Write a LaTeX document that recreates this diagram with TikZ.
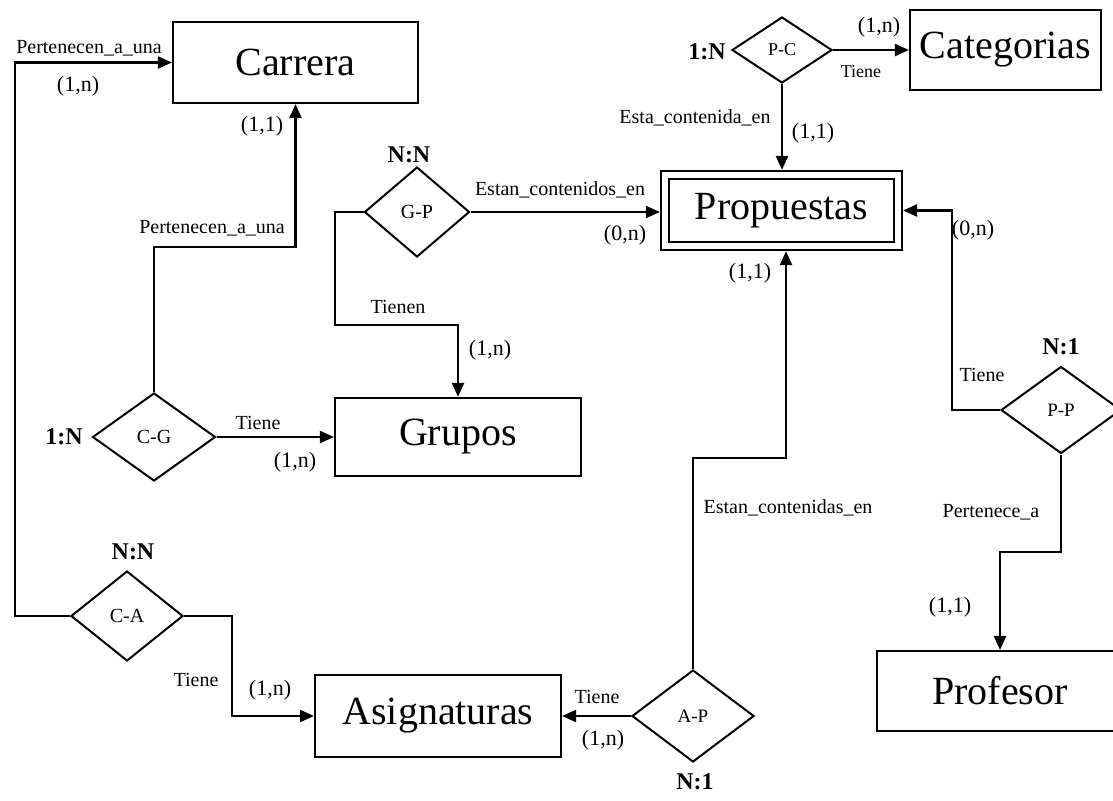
\documentclass[tikz,border=0pt]{standalone}
\usepackage{fontspec}
\setmainfont{Liberation Serif}
\usetikzlibrary{arrows.meta,shapes.geometric}
\tikzset{
 ent/.style={draw, line width=2.2pt, inner sep=0pt, font=\fontsize{40}{44}\selectfont},
 rel/.style={draw, diamond, line width=2pt, inner sep=0pt, font=\fontsize{20}{22}\selectfont},
 conn/.style={line width=2.2pt},
 arr/.style={conn, -{Triangle[length=14pt,width=12pt]}},
 lab/.style={font=\fontsize{20}{22}\selectfont, inner sep=0pt},
 smlab/.style={font=\fontsize{18}{20}\selectfont, inner sep=0pt},
 card/.style={font=\fontsize{22}{24}\selectfont, inner sep=0pt},
 ratio/.style={font=\bfseries\fontsize{24}{26}\selectfont, inner sep=0pt},
}
\begin{document}
\begin{tikzpicture}[x=1pt,y=-1pt]
\useasboundingbox (0,0) rectangle (1113,800);
\clip (0,0) rectangle (1113,800);
\fill[white] (0,0) rectangle (1113,800);
% entities
\node[ent, minimum width=245pt, minimum height=81pt] (Carrera) at (295.5,62.5) {Carrera};
\node[ent, minimum width=191pt, minimum height=80pt] (Cat) at (1005.5,50) {Categorias};
\node[ent, minimum width=241pt, minimum height=79pt] (Prop) at (781.5,210.5) {Propuestas};
\draw[line width=2pt] ([shift={(9pt,-9pt)}]Prop.north west) rectangle ([shift={(-9pt,9pt)}]Prop.south east);
\node[ent, minimum width=246pt, minimum height=78pt] (Grupos) at (458,437) {Grupos};
\node[ent, minimum width=246pt, minimum height=82pt] (Asig) at (438,716) {Asignaturas};
\node[ent, minimum width=246pt, minimum height=80pt] (Prof) at (1000,691) {Profesor};
% relationships
\node[rel, minimum width=100pt, minimum height=66pt, font=\fontsize{18}{20}\selectfont] (PC) at (782,50) {P-C};
\node[rel, minimum width=105pt, minimum height=90pt] (GP) at (417,212) {G-P};
\node[rel, minimum width=123pt, minimum height=88pt] (CG) at (154,437) {C-G};
\node[rel, minimum width=112pt, minimum height=90pt] (CA) at (127,616) {C-A};
\node[rel, minimum width=122pt, minimum height=92pt, font=\fontsize{19}{21}\selectfont] (AP) at (693,716) {A-P};
\node[rel, minimum width=120pt, minimum height=87pt, font=\fontsize{19}{21}\selectfont] (PP) at (1061,410) {P-P};
% connectors
\draw[arr] (CA.west) -- (15,616) |- (Carrera.west);
\draw[arr] (CG.north) -- (154,247) -| (Carrera.south);
\draw[arr] (CG.east) -- (Grupos.west);
\draw[arr] (GP.west) -| (335,325) -| (Grupos.north);
\draw[arr] (GP.east) -- (Prop.west |- GP.east);
\draw[arr] (PC.south) -- (PC.south |- Prop.north);
\draw[arr] (PC.east) -- (Cat.west |- PC.east);
\draw[arr] (AP.north) -- (693,458) -| ([xshift=4.5pt]Prop.south);
\draw[arr] (AP.west) -- (Asig.east |- AP.west);
\draw[arr] (PP.west) -- (952,410) |- (Prop.east);
\draw[arr] (PP.south) -- (1061,552) -| (Prof.north);
\draw[arr] (CA.east) -- (232,616) |- (Asig.west);
% labels
\node[lab] (l1) at (89,48) {Pertenecen\_a\_una};
\node[card] (c1) at (78,86) {(1,n)};
\node[card] (c2) at (262,126) {(1,1)};
\node[lab] (l2) at (212,228) {Pertenecen\_a\_una};
\node[ratio] (r1) at (409,155) {N:N};
\node[lab] (l3) at (560,190) {Estan\_contenidos\_en};
\node[card] (c3) at (625,235) {(0,n)};
\node[lab] (l4) at (398,307) {Tienen};
\node[card] (c4) at (490,350) {(1,n)};
\node[ratio] (r2) at (64,437) {1:N};
\node[lab] (l5) at (258,423) {Tiene};
\node[card] (c5) at (295,462) {(1,n)};
\node[ratio] (r3) at (133,552) {N:N};
\node[lab] (l6) at (196,680) {Tiene};
\node[card] (c6) at (270,690) {(1,n)};
\node[lab] (l7) at (597,697) {Tiene};
\node[card] (c7) at (603,740) {(1,n)};
\node[ratio] (r4) at (695,782) {N:1};
\node[lab] (l8) at (788,508) {Estan\_contenidas\_en};
\node[card] (c8) at (750,273) {(1,1)};
\node[card] (c9) at (973,230) {(0,n)};
\node[lab] (l9) at (695,118) {Esta\_contenida\_en};
\node[card] (c10) at (813,133) {(1,1)};
\node[ratio] (r5) at (707,52) {1:N};
\node[card] (c11) at (879,27) {(1,n)};
\node[smlab] (l10) at (861,72) {Tiene};
\node[ratio] (r6) at (1061,347) {N:1};
\node[lab] (l11) at (982,375) {Tiene};
\node[lab] (l12) at (991,512) {Pertenece\_a};
\node[card] (c12) at (950,607) {(1,1)};
\end{tikzpicture}
\end{document}
